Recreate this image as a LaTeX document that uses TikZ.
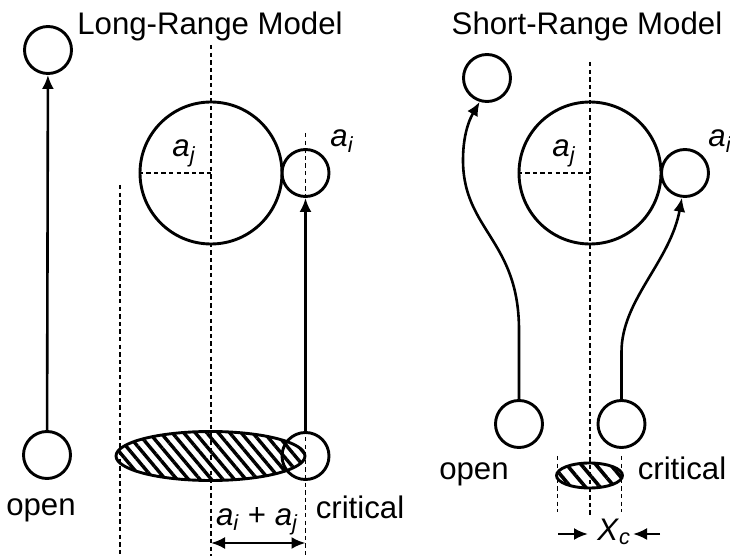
\documentclass[tikz,border=0pt]{standalone}
\usepackage{amsmath}
\usepackage{fontspec}
\setmainfont{Liberation Sans}
\usetikzlibrary{arrows.meta,patterns.meta}

\newcommand{\symb}[2]{\textit{#1}$_{\textit{#2}}$}

\begin{document}
\begin{tikzpicture}[x=0.5pt,y=-0.5pt,>={Latex[length=7pt,width=6pt]},line join=round,
    ball/.style={draw,circle,line width=1.45pt,inner sep=0pt,minimum size=23.5pt},
    core/.style={ball,minimum size=71pt},
    guide/.style={dash pattern=on 2.2pt off 1.6pt,line width=0.75pt},
    link/.style={line width=1.3pt},
    lbl/.style={font=\fontsize{15.6}{18}\selectfont,inner sep=0pt}]
    \useasboundingbox (0,0) rectangle (730,556);

    % long-range model
    \node[lbl,anchor=base] (ltitle) at (210,35) {Long-Range Model};

    \draw[guide] (120,185) -- (120,556);
    \draw[guide] (211,45) -- (211,556);
    \draw[guide] (305.5,133) -- (305.5,556);

    \draw[line width=1.45pt,pattern={Lines[angle=-50,distance=4.4pt,line width=1.7pt]}]
        (210.5,456) ellipse [x radius=94.5,y radius=24.5];

    \node[ball] (lopenT) at (48,50) {};
    \node[ball] (lopenB) at (47,455) {};
    \node[core] (lcore) at (211,173) {};
    \node[ball] (lcritT) at (305.5,173) {};
    \node[ball] (lcritB) at (305.5,456) {};

    \draw[guide] (lcore.west) -- (lcore.center);

    \draw[->,link] (lopenB) -- (lopenT);
    \draw[->,link] (lcritB) -- (lcritT);

    \node[lbl,anchor=base west] (laj) at (172,157) {\symb{a}{j}};
    \node[lbl,anchor=base west] (lai) at (330,147) {\symb{a}{i}};
    \node[lbl,anchor=base] (lopen) at (41,516) {open};
    \node[lbl,anchor=base] (lcrit) at (360,518) {critical};
    \node[lbl,anchor=base] (lsum) at (257,525) {\symb{a}{i} + \symb{a}{j}};

    \coordinate (dimL) at (211,543);
    \coordinate (dimR) at (305.5,543);
    \draw[<->,link] (dimL) -- (dimR);

    % short-range model
    \node[lbl,anchor=base] (rtitle) at (587,35) {Short-Range Model};

    \draw[guide] (590,62) -- (590,517);
    \draw[guide] (557.7,456) -- (557.7,512);
    \draw[guide] (621.5,456) -- (621.5,512);

    \draw[line width=1.45pt,pattern={Lines[angle=-50,distance=5.6pt,line width=1.8pt]}]
        (589.5,475.5) ellipse [x radius=33,y radius=12.5];

    \node[ball] (ropenT) at (487,78) {};
    \node[ball] (ropenB) at (519,424) {};
    \node[core] (rcore) at (590,173) {};
    \node[ball] (rcritT) at (685,173) {};
    \node[ball] (rcritB) at (621.5,424) {};

    \draw[guide] (rcore.west) -- (rcore.center);

    \draw[->,link] (ropenB.north) -- (519,330)
        .. controls (519,240) and (463,230) .. (463,160)
        .. controls (463,130) and (472,115) .. (ropenT.-107);
    \draw[->,link] (rcritB.north) -- (621.5,352)
        .. controls (621.5,300) and (670,262) .. (rcritT.-97);

    \node[lbl,anchor=base west] (raj) at (552,157) {\symb{a}{j}};
    \node[lbl,anchor=base west] (rai) at (708,147) {\symb{a}{i}};
    \node[lbl,anchor=base] (ropen) at (474,480) {open};
    \node[lbl,anchor=base] (rcrit) at (682,480) {critical};
    \node[lbl,anchor=base west] (xc) at (597,540) {\symb{X}{c}};

    \coordinate (xcL) at (558,534);
    \coordinate (xcR) at (660,534);
    \draw[->,link] (xcL) -- (588,534);
    \draw[->,link] (xcR) -- (633,534);
\end{tikzpicture}
\end{document}
